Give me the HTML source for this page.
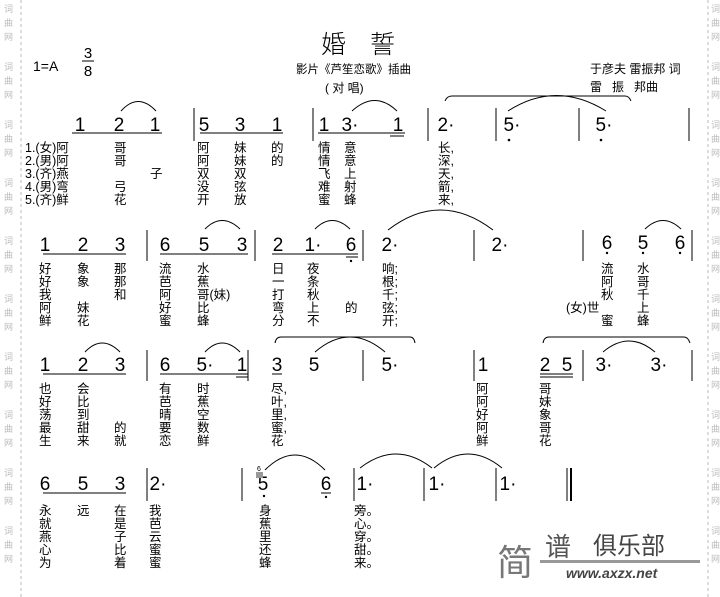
<!DOCTYPE html>
<html><head><meta charset="utf-8"><style>
body{margin:0;background:#fff;width:720px;height:597px;overflow:hidden}
svg{display:block}
.d{font-family:"Liberation Sans",sans-serif;font-size:19px;text-anchor:middle}
.l{font-family:"Liberation Sans","Noto Sans CJK SC",sans-serif;font-size:12.5px}
.w{font-family:"Noto Sans CJK SC",sans-serif;font-size:9px;fill:#bbb}
</style></head><body>
<svg width="720" height="597" viewBox="0 0 720 597" xmlns="http://www.w3.org/2000/svg">
<g stroke="#bbb" stroke-dasharray="3,3" stroke-width="1"><line x1="21" y1="0" x2="21" y2="597"/><line x1="708" y1="0" x2="708" y2="597"/></g>
<g class="w">
<text x="4" y="12">词</text><text x="4" y="26">曲</text><text x="4" y="40">网</text>
<text x="4" y="70">词</text><text x="4" y="84">曲</text><text x="4" y="98">网</text>
<text x="4" y="128">词</text><text x="4" y="142">曲</text><text x="4" y="156">网</text>
<text x="4" y="186">词</text><text x="4" y="200">曲</text><text x="4" y="214">网</text>
<text x="4" y="244">词</text><text x="4" y="258">曲</text><text x="4" y="272">网</text>
<text x="4" y="302">词</text><text x="4" y="316">曲</text><text x="4" y="330">网</text>
<text x="4" y="360">词</text><text x="4" y="374">曲</text><text x="4" y="388">网</text>
<text x="4" y="418">词</text><text x="4" y="432">曲</text><text x="4" y="446">网</text>
<text x="4" y="476">词</text><text x="4" y="490">曲</text><text x="4" y="504">网</text>
<text x="4" y="534">词</text><text x="4" y="548">曲</text><text x="4" y="562">网</text>
<text x="711" y="12">词</text><text x="711" y="26">曲</text><text x="711" y="40">网</text>
<text x="711" y="70">词</text><text x="711" y="84">曲</text><text x="711" y="98">网</text>
<text x="711" y="128">词</text><text x="711" y="142">曲</text><text x="711" y="156">网</text>
<text x="711" y="186">词</text><text x="711" y="200">曲</text><text x="711" y="214">网</text>
<text x="711" y="244">词</text><text x="711" y="258">曲</text><text x="711" y="272">网</text>
<text x="711" y="302">词</text><text x="711" y="316">曲</text><text x="711" y="330">网</text>
<text x="711" y="360">词</text><text x="711" y="374">曲</text><text x="711" y="388">网</text>
<text x="711" y="418">词</text><text x="711" y="432">曲</text><text x="711" y="446">网</text>
<text x="711" y="476">词</text><text x="711" y="490">曲</text><text x="711" y="504">网</text>
<text x="711" y="534">词</text><text x="711" y="548">曲</text><text x="711" y="562">网</text>
</g>
<text x="321" y="53" style="font-family:'Noto Sans CJK SC',sans-serif;font-size:25px;font-weight:300">婚</text>
<text x="370" y="53" style="font-family:'Noto Sans CJK SC',sans-serif;font-size:25px;font-weight:300">誓</text>
<text x="33" y="71" class="l" style="font-size:14px">1=A</text>
<text x="88" y="58" class="d" style="font-size:15px">3</text><line x1="82" y1="61" x2="94" y2="61" stroke="#000"/><text x="88" y="76" class="d" style="font-size:15px">8</text>
<text x="296" y="73" class="l" style="font-size:11.5px">影片《芦笙恋歌》插曲</text>
<text x="325" y="92" class="l" style="font-size:12px">( 对 唱)</text>
<text x="590" y="73" class="l" style="font-size:12px">于彦夫 雷振邦 词</text>
<text x="590" y="91" class="l" style="font-size:12px">雷 &#160;&#160;振 &#160;&#160;邦曲</text>
<g stroke="#000" fill="none" stroke-width="1">
<line x1="194" y1="108" x2="194" y2="141"/><line x1="313" y1="108" x2="313" y2="141"/><line x1="428" y1="108" x2="428" y2="141"/><line x1="496" y1="108" x2="496" y2="141"/><line x1="579" y1="108" x2="579" y2="141"/><line x1="689" y1="108" x2="689" y2="141"/>
<line x1="147" y1="230" x2="147" y2="261"/><line x1="255" y1="230" x2="255" y2="261"/><line x1="363" y1="230" x2="363" y2="261"/><line x1="474" y1="230" x2="474" y2="261"/><line x1="583" y1="230" x2="583" y2="261"/><line x1="692" y1="230" x2="692" y2="261"/>
<line x1="147" y1="350" x2="147" y2="381"/><line x1="248" y1="350" x2="248" y2="381"/><line x1="363" y1="350" x2="363" y2="381"/><line x1="474" y1="350" x2="474" y2="381"/><line x1="583" y1="350" x2="583" y2="381"/><line x1="692" y1="350" x2="692" y2="381"/>
<line x1="147" y1="468" x2="147" y2="501"/><line x1="242" y1="468" x2="242" y2="501"/><line x1="354" y1="468" x2="354" y2="501"/><line x1="424" y1="468" x2="424" y2="501"/><line x1="496" y1="468" x2="496" y2="501"/><line x1="567" y1="468" x2="567" y2="501"/><line x1="571" y1="468" x2="571" y2="501" stroke-width="2"/>
<line x1="72" y1="133" x2="162" y2="133"/><line x1="200" y1="133" x2="283" y2="133"/><line x1="318" y1="133" x2="405" y2="133"/><line x1="390" y1="136" x2="404" y2="136"/>
<line x1="43" y1="254" x2="126" y2="254"/><line x1="160" y1="254" x2="248" y2="254"/><line x1="272" y1="254" x2="358" y2="254"/><line x1="346" y1="257" x2="358" y2="257"/>
<line x1="43" y1="374" x2="126" y2="374"/><line x1="160" y1="374" x2="248" y2="374"/><line x1="236" y1="377" x2="248" y2="377"/><line x1="272" y1="374" x2="282" y2="374"/><line x1="540" y1="374" x2="573" y2="374"/><line x1="540" y1="377" x2="573" y2="377"/>
<line x1="43" y1="493" x2="126" y2="493"/><line x1="321" y1="493" x2="331" y2="493"/>
<path d="M121 111 Q138 92 156 111"/><path d="M352 111 Q375 90 397 111"/>
<path d="M445 101 Q447 96 452 96 L625 96 Q629 96 631 101"/><path d="M508 111 Q556 80 606 111"/>
<path d="M205 229 Q222 212 240 229"/><path d="M315 229 Q332 212 350 229"/><path d="M388 230 Q440 190 493 230"/><path d="M645 229 Q663 212 681 229"/>
<path d="M85 352 Q102 334 120 352"/><path d="M205 352 Q222 334 240 352"/>
<path d="M275 343 Q276 337 281 337 L410 337 Q414 337 415 343"/><path d="M315 352 Q350 322 385 352"/>
<path d="M543 343 Q544 337 549 337 L684 337 Q688 337 690 343"/><path d="M603 352 Q629 330 655 352"/>
<path d="M265 470 Q295 440 325 470"/><path d="M360 468 Q396 440 432 468"/><path d="M434 468 Q468 440 502 468"/>
</g>
<g class="d">
<text x="80" y="131">1</text><text x="119" y="131">2</text><text x="155" y="131">1</text>
<text x="204" y="131">5</text><text x="240" y="131">3</text><text x="277" y="131">1</text>
<text x="324" y="131">1</text><text x="350" y="131">3·</text><text x="398" y="131">1</text>
<text x="446" y="131">2·</text><text x="512" y="131">5·</text><text x="604" y="131">5·</text>
<text x="45" y="251">1</text><text x="83" y="251">2</text><text x="120" y="251">3</text>
<text x="165" y="251">6</text><text x="204" y="251">5</text><text x="242" y="251">3</text>
<text x="278" y="251">2</text><text x="313" y="251">1·</text><text x="351" y="251">6</text>
<text x="390" y="251">2·</text><text x="500" y="251">2·</text>
<text x="607" y="249">6</text><text x="643" y="249">5</text><text x="680" y="249">6</text>
<text x="45" y="371">1</text><text x="83" y="371">2</text><text x="120" y="371">3</text>
<text x="165" y="371">6</text><text x="205" y="371">5·</text><text x="242" y="371">1</text>
<text x="277" y="371">3</text><text x="314" y="371">5</text><text x="390" y="371">5·</text>
<text x="483" y="371">1</text><text x="545" y="371">2</text><text x="567" y="371">5</text>
<text x="604" y="371">3·</text><text x="659" y="371">3·</text>
<text x="45" y="490">6</text><text x="83" y="490">5</text><text x="120" y="490">3</text>
<text x="158" y="490">2·</text><text x="263" y="490">5</text><text x="326" y="490">6</text>
<text x="365" y="490">1·</text><text x="437" y="490">1·</text><text x="508" y="490">1·</text>
</g>
<g fill="#000">
<circle cx="509" cy="140" r="1.3"/><circle cx="601" cy="140" r="1.3"/><circle cx="351" cy="261" r="1.2"/>
<circle cx="607" cy="253" r="1.2"/><circle cx="643" cy="253" r="1.2"/><circle cx="680" cy="253" r="1.2"/>
<circle cx="264" cy="496" r="1.2"/><circle cx="326" cy="497" r="1.2"/>
</g>
<rect x="256" y="472" width="7" height="6" fill="#999"/><text x="257" y="471" style="font-size:7px;font-family:'Liberation Sans'">6</text>
<g class="l">
<text x="25" y="152">1.(女)阿</text><text x="25" y="165">2.(男)阿</text><text x="25" y="178">3.(齐)燕</text><text x="25" y="191">4.(男)弯</text><text x="25" y="204">5.(齐)鲜</text>
<text x="114" y="152">哥</text><text x="114" y="165">哥</text><text x="114" y="191">弓</text><text x="114" y="204">花</text><text x="150" y="178">子</text>
<text x="197" y="152">阿</text><text x="197" y="165">阿</text><text x="197" y="178">双</text><text x="197" y="191">没</text><text x="197" y="204">开</text>
<text x="234" y="152">妹</text><text x="234" y="165">妹</text><text x="234" y="178">双</text><text x="234" y="191">弦</text><text x="234" y="204">放</text>
<text x="271" y="152">的</text><text x="271" y="165">的</text>
<text x="318" y="152">情</text><text x="318" y="165">情</text><text x="318" y="178">飞</text><text x="318" y="191">难</text><text x="318" y="204">蜜</text>
<text x="344" y="152">意</text><text x="344" y="165">意</text><text x="344" y="178">上</text><text x="344" y="191">射</text><text x="344" y="204">蜂</text>
<text x="438" y="152">长,</text><text x="438" y="165">深,</text><text x="438" y="178">天,</text><text x="438" y="191">箭,</text><text x="438" y="204">来,</text>
</g>
<g class="l">
<text x="39" y="273">好</text><text x="39" y="286">好</text><text x="39" y="299">我</text><text x="39" y="312">阿</text><text x="39" y="325">鲜</text>
<text x="77" y="273">象</text><text x="77" y="286">象</text><text x="77" y="312">妹</text><text x="77" y="325">花</text>
<text x="114" y="273">那</text><text x="114" y="286">那</text><text x="114" y="299">和</text>
<text x="159" y="273">流</text><text x="159" y="286">芭</text><text x="159" y="299">阿</text><text x="159" y="312">好</text><text x="159" y="325">蜜</text>
<text x="197" y="273">水</text><text x="197" y="286">蕉</text><text x="197" y="299">哥(妹)</text><text x="197" y="312">比</text><text x="197" y="325">蜂</text>
<text x="272" y="273">日</text><text x="272" y="286">一</text><text x="272" y="299">打</text><text x="272" y="312">弯</text><text x="272" y="325">分</text>
<text x="307" y="273">夜</text><text x="307" y="286">条</text><text x="307" y="299">秋</text><text x="307" y="312">上</text><text x="307" y="325">不</text>
<text x="345" y="312">的</text>
<text x="382" y="273">响;</text><text x="382" y="286">根;</text><text x="382" y="299">千;</text><text x="382" y="312">弦;</text><text x="382" y="325">开;</text>
<text x="566" y="312">(女)世</text><text x="601" y="273">流</text><text x="601" y="286">阿</text><text x="601" y="299">秋</text><text x="601" y="325">蜜</text>
<text x="637" y="273">水</text><text x="637" y="286">哥</text><text x="637" y="299">千</text><text x="637" y="312">上</text><text x="637" y="325">蜂</text>
</g>
<g class="l">
<text x="39" y="393">也</text><text x="39" y="406">好</text><text x="39" y="419">荡</text><text x="39" y="432">最</text><text x="39" y="445">生</text>
<text x="77" y="393">会</text><text x="77" y="406">比</text><text x="77" y="419">到</text><text x="77" y="432">甜</text><text x="77" y="445">来</text>
<text x="114" y="432">的</text><text x="114" y="445">就</text>
<text x="159" y="393">有</text><text x="159" y="406">芭</text><text x="159" y="419">晴</text><text x="159" y="432">要</text><text x="159" y="445">恋</text>
<text x="197" y="393">时</text><text x="197" y="406">蕉</text><text x="197" y="419">空</text><text x="197" y="432">数</text><text x="197" y="445">鲜</text>
<text x="271" y="393">尽,</text><text x="271" y="406">叶,</text><text x="271" y="419">里,</text><text x="271" y="432">蜜,</text><text x="271" y="445">花</text>
<text x="476" y="393">阿</text><text x="476" y="406">阿</text><text x="476" y="419">好</text><text x="476" y="432">阿</text><text x="476" y="445">鲜</text>
<text x="539" y="393">哥</text><text x="539" y="406">妹</text><text x="539" y="419">象</text><text x="539" y="432">哥</text><text x="539" y="445">花</text>
</g>
<g class="l">
<text x="39" y="515">永</text><text x="39" y="528">就</text><text x="39" y="541">燕</text><text x="39" y="554">心</text><text x="39" y="567">为</text>
<text x="77" y="515">远</text>
<text x="114" y="515">在</text><text x="114" y="528">是</text><text x="114" y="541">子</text><text x="114" y="554">比</text><text x="114" y="567">着</text>
<text x="149" y="515">我</text><text x="149" y="528">芭</text><text x="149" y="541">云</text><text x="149" y="554">蜜</text><text x="149" y="567">蜜</text>
<text x="259" y="515">身</text><text x="259" y="528">蕉</text><text x="259" y="541">里</text><text x="259" y="554">还</text><text x="259" y="567">蜂</text>
<text x="354" y="515">旁。</text><text x="354" y="528">心。</text><text x="354" y="541">穿。</text><text x="354" y="554">甜。</text><text x="354" y="567">来。</text>
</g>
<text x="497" y="575" style="font-family:'Noto Sans CJK SC',sans-serif;font-size:36px;fill:#777">简</text>
<text x="545" y="556" style="font-family:'Noto Sans CJK SC',sans-serif;font-size:26px;fill:#555">谱</text>
<text x="593" y="554" style="font-family:'Noto Sans CJK SC',sans-serif;font-size:24px;fill:#444">俱乐部</text>
<rect x="540" y="560" width="160" height="3" fill="#999"/>
<text x="566" y="578" style="font-family:'Liberation Sans',sans-serif;font-size:14px;font-style:italic;font-weight:bold;fill:#444">www.axzx.net</text>
</svg>
</body></html>
